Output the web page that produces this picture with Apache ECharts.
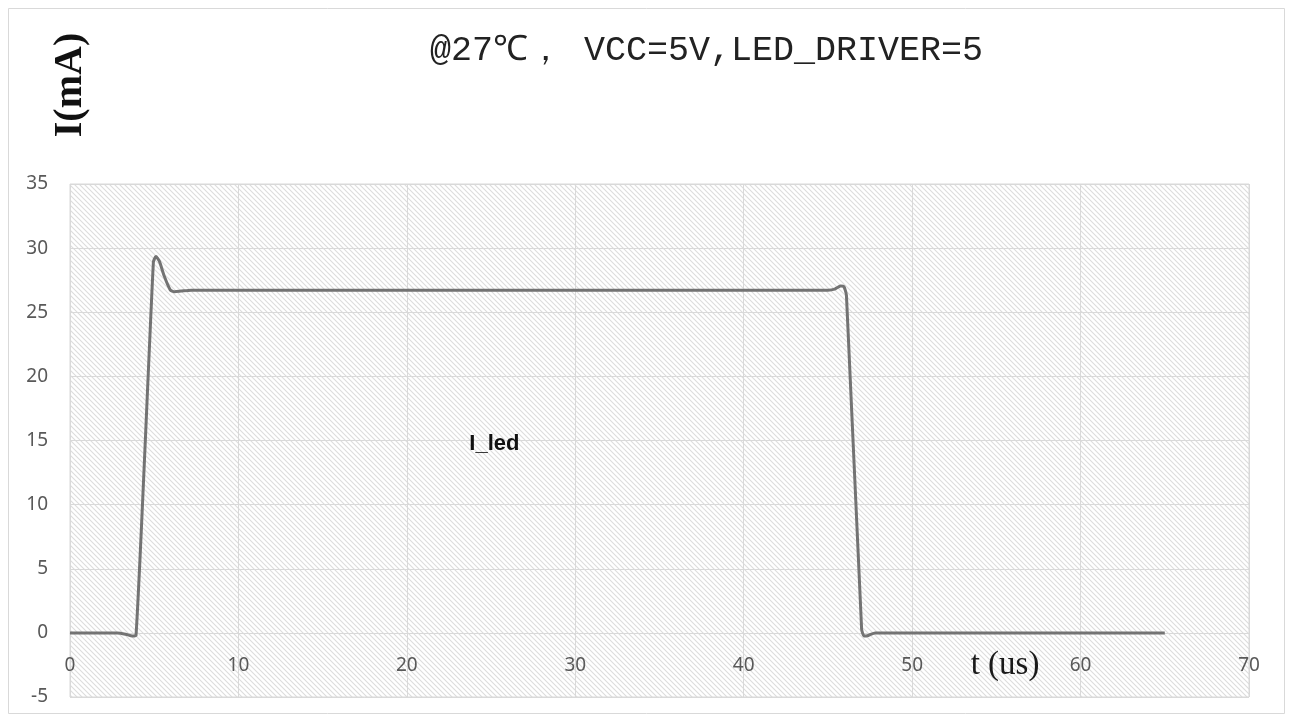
<!DOCTYPE html>
<html>
<head>
<meta charset="utf-8">
<title>I_led</title>
<script src="https://cdn.jsdelivr.net/npm/echarts@6/dist/echarts.min.js"></script>
<style>
  html, body { margin: 0; padding: 0; background: #ffffff; }
  #chart { width: 1292px; height: 722px; }
</style>
</head>
<body>
<div id="chart"></div>
<script>
// Time axis (us) and LED current (mA) samples of the pulse
const timeUs = [0, 2.8, 3.3, 3.7, 3.92, 4.95, 5.1, 5.3, 5.6, 5.95, 6.2, 6.6, 7.2,
                10, 20, 30, 40, 45.0, 45.4, 45.75, 45.95, 46.1, 47.0, 47.15, 47.4, 47.8,
                50, 60, 65];
const ledCurrent = [0, 0, -0.1, -0.25, -0.2, 28.9, 29.35, 29.0, 27.8, 26.75, 26.6, 26.65, 26.72,
                    26.72, 26.72, 26.72, 26.72, 26.72, 26.8, 27.05, 27.0, 26.3, 0.3, -0.25, -0.2, 0,
                    0, 0, 0];
const xTicks = { min: 0, max: 70, step: 10 };
const yTicks = { min: -5, max: 35, step: 5 };
const seriesName = 'I_led';
const labelPos = [25.2, 14.7];

// Diagonal hatch tile used as the plot background
const P = 5;
const tile = document.createElement('canvas');
tile.width = P; tile.height = P;
const tctx = tile.getContext('2d');
tctx.fillStyle = '#ffffff';
tctx.fillRect(0, 0, P, P);
tctx.strokeStyle = '#dcdcdc';
tctx.lineWidth = 1.1;
for (let k = -1; k <= 1; k++) {
  tctx.beginPath();
  tctx.moveTo(k * P - 1, -1);
  tctx.lineTo(k * P + P + 1, P + 1);
  tctx.stroke();
}

const points = timeUs.map((t, i) => [t, ledCurrent[i]]);

// plot box geometry (pixels)
const gridTop = 184, gridBottom = 25, gridH = 722 - gridTop - gridBottom;
// pixel distance from the bottom edge up to the zero line
const zeroOffset = gridH * (0 - yTicks.min) / (yTicks.max - yTicks.min);

const chart = echarts.init(document.getElementById('chart'), null, { renderer: 'canvas' });
chart.setOption({
  backgroundColor: '#ffffff',
  animation: false,
  title: {
    text: '@27℃， VCC=5V,LED_DRIVER=5',
    left: 425,
    top: 28,
    textStyle: {
      fontFamily: 'Liberation Mono, monospace',
      fontSize: 35,
      fontWeight: 'normal',
      color: '#222222'
    }
  },
  grid: {
    left: 70,
    top: gridTop,
    right: 43,
    bottom: gridBottom,
    outerBoundsMode: 'none',
    containLabel: false,
    show: true,
    borderColor: '#d9d9d9',
    borderWidth: 1,
    backgroundColor: { image: tile, repeat: 'repeat' }
  },
  xAxis: {
    type: 'value',
    min: xTicks.min,
    max: xTicks.max,
    interval: xTicks.step,
    offset: -zeroOffset,
    axisLine: { show: true, onZero: false, lineStyle: { color: '#d9d9d9', width: 1 } },
    axisTick: { show: false },
    axisLabel: {
      margin: 23,
      fontFamily: 'Noto Sans',
      fontSize: 19,
      color: '#595959'
    },
    splitLine: { show: true, lineStyle: { color: '#d9d9d9', width: 1 } }
  },
  yAxis: {
    type: 'value',
    min: yTicks.min,
    max: yTicks.max,
    interval: yTicks.step,
    axisLine: { show: false },
    axisTick: { show: false },
    axisLabel: {
      margin: 22,
      fontFamily: 'Noto Sans',
      fontSize: 19,
      color: '#595959'
    },
    splitLine: { show: true, lineStyle: { color: '#d9d9d9', width: 1 } }
  },
  graphic: [
    {
      type: 'rect',
      shape: { x: 8.5, y: 8.5, width: 1276, height: 705 },
      style: { fill: 'none', stroke: '#d9d9d9', lineWidth: 1 },
      silent: true,
      z: -1
    },
    {
      type: 'text',
      x: 71,
      y: 85,
      rotation: Math.PI / 2,
      style: {
        text: 'I(mA)',
        fontFamily: 'Liberation Serif, serif',
        fontSize: 40,
        fontWeight: 'bold',
        fill: '#111111',
        textAlign: 'center',
        textVerticalAlign: 'middle'
      }
    },
    {
      type: 'text',
      x: 1005,
      y: 665,
      style: {
        text: 't (us)',
        fontFamily: 'Liberation Serif, serif',
        fontSize: 33,
        fill: '#1a1a1a',
        textAlign: 'center',
        textVerticalAlign: 'middle'
      },
      z: 100
    }
  ],
  series: [
    {
      name: seriesName,
      type: 'line',
      data: points,
      showSymbol: false,
      smooth: 0.2,
      lineStyle: { color: '#737373', width: 3 },
      z: 10,
      markPoint: {
        symbol: 'circle',
        symbolSize: 0,
        data: [{ coord: labelPos }],
        label: {
          show: true,
          formatter: seriesName,
          position: 'inside',
          fontFamily: 'Liberation Sans, Arial, sans-serif',
          fontSize: 22,
          fontWeight: 'bold',
          color: '#111111'
        }
      }
    }
  ]
});
</script>
</body>
</html>
